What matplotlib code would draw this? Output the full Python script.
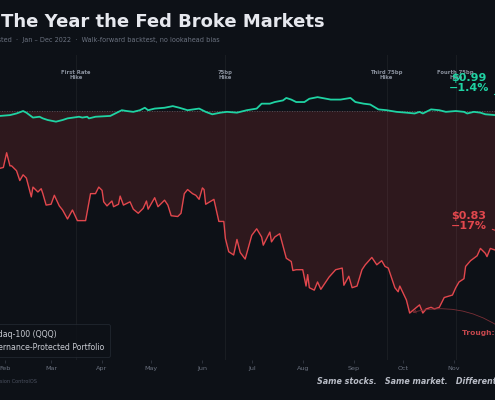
import pandas as pd
import matplotlib
matplotlib.use("Agg")
import matplotlib.pyplot as plt
import matplotlib.dates as mdates

# values (growth of $1)
qqq_dates = ["2022-01-03", "2022-01-12", "2022-01-21", "2022-01-29", "2022-01-31", "2022-02-02",
             "2022-02-04", "2022-02-05", "2022-02-08", "2022-02-10", "2022-02-12", "2022-02-14",
             "2022-02-17", "2022-02-18", "2022-02-21", "2022-02-23", "2022-02-24", "2022-02-26",
             "2022-03-01", "2022-03-03", "2022-03-06", "2022-03-08", "2022-03-11", "2022-03-14",
             "2022-03-17", "2022-03-22", "2022-03-25", "2022-03-28", "2022-03-30", "2022-04-01",
             "2022-04-02", "2022-04-04", "2022-04-07", "2022-04-08", "2022-04-11", "2022-04-12",
             "2022-04-14", "2022-04-18", "2022-04-20", "2022-04-23", "2022-04-26", "2022-04-28",
             "2022-04-29", "2022-05-03", "2022-05-05", "2022-05-09", "2022-05-11", "2022-05-13",
             "2022-05-17", "2022-05-19", "2022-05-21", "2022-05-23", "2022-05-26", "2022-05-28",
             "2022-05-30", "2022-06-01", "2022-06-02", "2022-06-03", "2022-06-08", "2022-06-11",
             "2022-06-14", "2022-06-15", "2022-06-17", "2022-06-20", "2022-06-22", "2022-06-24",
             "2022-06-27", "2022-07-01", "2022-07-04", "2022-07-07", "2022-07-08", "2022-07-12",
             "2022-07-13", "2022-07-15", "2022-07-18", "2022-07-22", "2022-07-25", "2022-07-26",
             "2022-07-28", "2022-08-01", "2022-08-03", "2022-08-04", "2022-08-05", "2022-08-08",
             "2022-08-10", "2022-08-12", "2022-08-17", "2022-08-21", "2022-08-25", "2022-08-26",
             "2022-08-29", "2022-08-31", "2022-09-03", "2022-09-06", "2022-09-08", "2022-09-12",
             "2022-09-15", "2022-09-18", "2022-09-20", "2022-09-22", "2022-09-26", "2022-09-28",
             "2022-09-29", "2022-10-03", "2022-10-05", "2022-10-11", "2022-10-13", "2022-10-15",
             "2022-10-18", "2022-10-20", "2022-10-23", "2022-10-26", "2022-10-31", "2022-11-02",
             "2022-11-04", "2022-11-07", "2022-11-08", "2022-11-11", "2022-11-15", "2022-11-17",
             "2022-11-20", "2022-11-21", "2022-11-23", "2022-11-26", "2022-12-09", "2022-12-30"]
qqq_vals = [1.000, 0.968, 0.944, 0.930, 0.931, 0.949,
            0.933, 0.933, 0.927, 0.915, 0.922, 0.918,
            0.895, 0.907, 0.901, 0.905, 0.899, 0.885,
            0.886, 0.897, 0.884, 0.879, 0.868, 0.879,
            0.866, 0.866, 0.899, 0.899, 0.907, 0.903,
            0.889, 0.884, 0.890, 0.883, 0.886, 0.896,
            0.885, 0.889, 0.880, 0.875, 0.881, 0.890,
            0.880, 0.894, 0.883, 0.891, 0.885, 0.872,
            0.871, 0.875, 0.899, 0.904, 0.899, 0.897,
            0.892, 0.906, 0.904, 0.886, 0.892, 0.865,
            0.865, 0.844, 0.828, 0.824, 0.843, 0.827,
            0.819, 0.848, 0.856, 0.846, 0.836, 0.852,
            0.840, 0.846, 0.850, 0.820, 0.816, 0.805,
            0.806, 0.806, 0.786, 0.800, 0.784, 0.781,
            0.791, 0.782, 0.797, 0.806, 0.808, 0.787,
            0.798, 0.784, 0.786, 0.806, 0.812, 0.821,
            0.812, 0.817, 0.810, 0.808, 0.784, 0.779,
            0.786, 0.769, 0.753, 0.763, 0.753, 0.758,
            0.760, 0.758, 0.760, 0.772, 0.775, 0.784,
            0.791, 0.795, 0.810, 0.817, 0.823, 0.832,
            0.826, 0.822, 0.832, 0.830, 0.838, 0.830]

gov_dates = ["2022-01-03", "2022-01-15", "2022-01-29", "2022-02-04", "2022-02-08", "2022-02-12",
             "2022-02-14", "2022-02-18", "2022-02-22", "2022-02-24", "2022-02-27", "2022-03-04",
             "2022-03-08", "2022-03-11", "2022-03-18", "2022-03-20", "2022-03-23", "2022-03-24",
             "2022-03-28", "2022-04-06", "2022-04-13", "2022-04-16", "2022-04-20", "2022-04-24",
             "2022-04-27", "2022-04-29", "2022-05-03", "2022-05-09", "2022-05-14", "2022-05-18",
             "2022-05-23", "2022-05-30", "2022-06-03", "2022-06-07", "2022-06-12", "2022-06-16",
             "2022-06-22", "2022-06-28", "2022-07-04", "2022-07-07", "2022-07-12", "2022-07-15",
             "2022-07-20", "2022-07-22", "2022-07-25", "2022-07-28", "2022-08-02", "2022-08-05",
             "2022-08-10", "2022-08-18", "2022-08-24", "2022-08-30", "2022-09-02", "2022-09-07",
             "2022-09-11", "2022-09-16", "2022-09-21", "2022-09-27", "2022-10-03", "2022-10-08",
             "2022-10-11", "2022-10-13", "2022-10-18", "2022-10-23", "2022-10-27", "2022-11-02",
             "2022-11-07", "2022-11-09", "2022-11-13", "2022-11-17", "2022-11-20", "2022-11-26",
             "2022-12-09", "2022-12-30"]
gov_vals = [1.000, 0.997, 0.994, 0.995, 0.997, 1.000,
            0.998, 0.992, 0.993, 0.991, 0.989, 0.987,
            0.989, 0.991, 0.993, 0.992, 0.993, 0.991,
            0.993, 0.994, 1.001, 1.000, 0.999, 1.001,
            1.004, 1.001, 1.003, 1.004, 1.006, 1.004,
            1.001, 1.003, 0.999, 0.996, 0.998, 0.999,
            0.998, 1.001, 1.003, 1.009, 1.009, 1.011,
            1.013, 1.016, 1.014, 1.011, 1.011, 1.015,
            1.017, 1.014, 1.014, 1.016, 1.011, 1.009,
            1.008, 1.002, 1.001, 0.999, 0.998, 0.997,
            0.999, 0.997, 1.002, 1.001, 0.999, 1.000,
            0.999, 0.997, 0.999, 0.998, 0.996, 0.995,
            0.993, 0.990]

event_dates = ["2022-03-16", "2022-06-15", "2022-09-21", "2022-11-02"]
event_labels = ["First Rate\nHike", "75bp\nHike", "Third 75bp\nHike", "Fourth 75bp\nHike"]

qqq = pd.Series(qqq_vals, index=pd.to_datetime(qqq_dates))
gov = pd.Series(gov_vals, index=pd.to_datetime(gov_dates))

BG = "#0d1117"
GREEN = "#1fd3a3"
RED = "#e2474d"
W, H = 495, 400

fig = plt.figure(figsize=(W / 100, H / 100), dpi=100, facecolor=BG)
# the chart is wider than the frame: Jan and Dec fall outside it
ax = fig.add_axes([-46 / W, 40 / H, 598.8 / W, 305 / H])
ax.set_facecolor(BG)
ax.set_xlim(pd.Timestamp("2022-01-01"), pd.Timestamp("2022-12-31"))
ax.set_ylim(0.6956, 1.0685)

ax.fill_between(qqq.index, qqq.values, 1.0, color="#ef4444", alpha=0.15, lw=0)
ax.axhline(1.0, color="#59606c", lw=0.6, ls=(0, (1, 2)))

for d, lab in zip(event_dates, event_labels):
    ax.axvline(pd.Timestamp(d), color="white", alpha=0.05, lw=0.8)
    ax.text(pd.Timestamp(d), 1.044, lab, ha="center", va="center", fontsize=3.8,
            color="#8a919e", fontweight="bold", linespacing=1.1)

ax.plot(qqq.index, qqq.values, color=RED, lw=1.0, label="Nasdaq-100 (QQQ)")
ax.plot(gov.index, gov.values, color=GREEN, lw=1.3, label="Governance-Protected Portfolio")

# end-of-year labels
ax.annotate(f"${gov.iloc[-1]:.2f}\n\u22121.4%", xy=(gov.index[-1], gov.iloc[-1]),
            xytext=(pd.Timestamp("2022-11-10"), 1.034), ha="center", va="center",
            fontsize=8, fontweight="bold", color=GREEN, linespacing=1.0,
            arrowprops=dict(arrowstyle="-", color=GREEN, lw=0.8))
ax.annotate(f"${qqq.iloc[-1]:.2f}\n\u221217%", xy=(qqq.index[-1], qqq.iloc[-1]),
            xytext=(pd.Timestamp("2022-11-10"), 0.8655), ha="center", va="center",
            fontsize=8, fontweight="bold", color=RED, linespacing=1.0,
            arrowprops=dict(arrowstyle="-", color=RED, lw=0.8))

low_day = qqq.idxmin()
ax.annotate(f"Trough: ${qqq.min():.2f} (\u2212{(1 - qqq.min()) * 100:.0f}%)",
            xy=(low_day, qqq.min()), xytext=(pd.Timestamp("2022-11-06"), 0.728),
            ha="left", va="center", fontsize=5.4, fontweight="bold", color="#c4474d",
            arrowprops=dict(arrowstyle="->", color="#7a2f36", lw=0.6,
                            connectionstyle="arc3,rad=0.25"))

ax.text(pd.Timestamp("2022-01-29"), 1.008, "Start $1.00", ha="right", va="center",
        fontsize=4, color="#6b7280")

ax.xaxis.set_major_locator(mdates.MonthLocator())
ax.xaxis.set_major_formatter(mdates.DateFormatter("%b"))
ax.tick_params(axis="x", colors="#3a404c", labelcolor="#6b7280", labelsize=4.6,
               length=2, width=0.5, pad=2)
ax.set_yticks([])
for s in ax.spines.values():
    s.set_visible(False)

leg = ax.legend(loc="lower right", bbox_to_anchor=(110 / W, 43 / H),
                bbox_transform=fig.transFigure, fontsize=5.6, frameon=True,
                facecolor=BG, edgecolor="#262c36", labelcolor="#c9ccd3",
                handlelength=1.6, borderpad=0.7, borderaxespad=0, fancybox=True)
leg.get_frame().set_linewidth(0.6)

fig.text(1 / W, 1 - 27 / H, "The Year the Fed Broke Markets", fontsize=13,
         fontweight="bold", color="#e6e8ee", va="baseline")
fig.text(12.5 / W, 1 - 40 / H, "Backtested", fontsize=4.7, color="#6b7280",
         ha="right", va="center")
fig.text(15.5 / W, 1 - 40 / H,
         "\u00b7  Jan \u2013 Dec 2022  \u00b7  Walk-forward backtest, no lookahead bias",
         fontsize=4.7, color="#6b7280", ha="left", va="center")
fig.text(37 / W, 1 - 382 / H, "Governance simulation by Decision ControlOS", fontsize=3.6,
         color="#4b5160", ha="right", va="center")
fig.text(317 / W, 1 - 381 / H, "Same stocks.   Same market.   Different outcome.",
         fontsize=5.8, color="#b8bcc6", fontweight="bold", fontstyle="italic",
         ha="left", va="center")

fig.savefig("out.png", dpi=100, facecolor=BG)
